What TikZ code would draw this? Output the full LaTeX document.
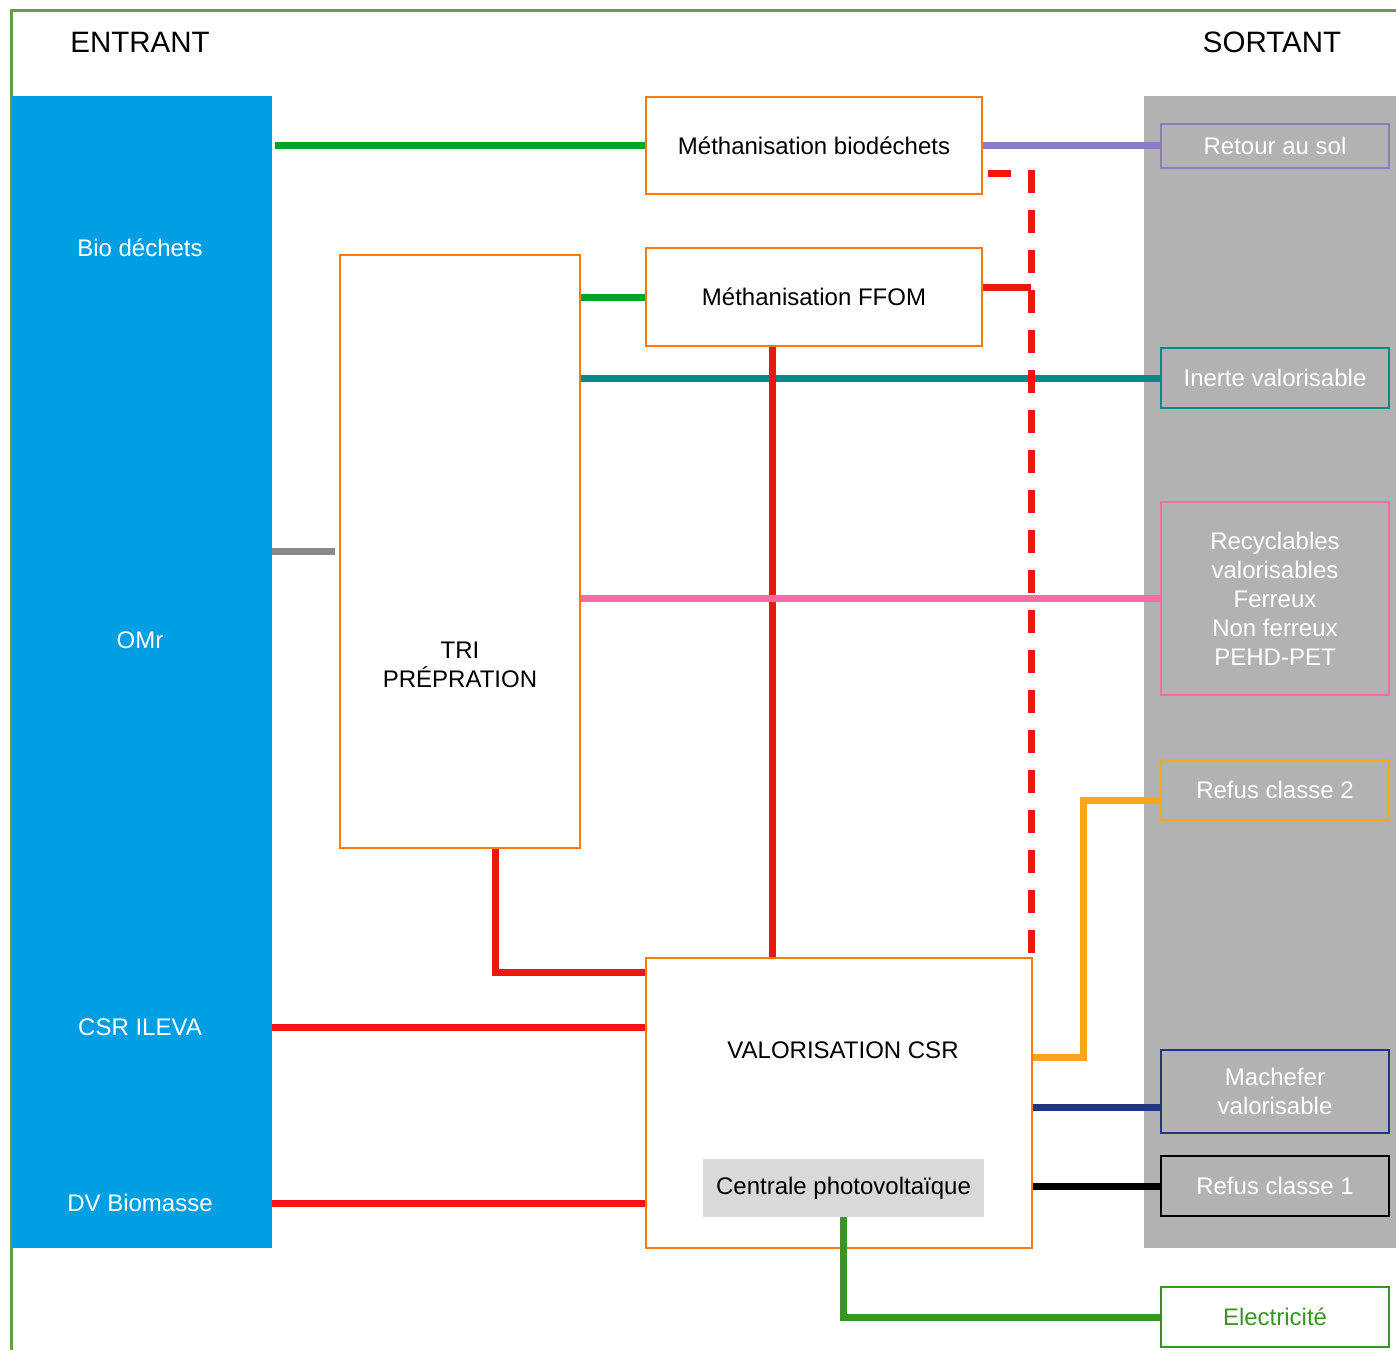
\documentclass[tikz,border=0pt]{standalone}
\usepackage{fontspec}
\setmainfont{Liberation Sans}
\usepackage{xcolor}
\usepackage{tikz}
\usetikzlibrary{positioning,calc}

\definecolor{inblue}{RGB}{0,159,227}
\definecolor{outgray}{RGB}{178,178,178}
\definecolor{framegreen}{RGB}{106,154,69}
\definecolor{procorange}{RGB}{255,122,10}
\definecolor{biogreen}{RGB}{0,165,38}
\definecolor{soilpurple}{RGB}{140,125,190}
\definecolor{flowred}{RGB}{240,20,20}
\definecolor{inertteal}{RGB}{0,139,135}
\definecolor{omrgray}{RGB}{138,138,138}
\definecolor{recypink}{RGB}{255,105,165}
\definecolor{refusorange}{RGB}{255,165,26}
\definecolor{machnavy}{RGB}{31,53,133}
\definecolor{elecgreen}{RGB}{58,148,40}
\definecolor{pvgray}{RGB}{217,217,217}

\newcommand\flowfont{\fontsize{24}{29}\selectfont}
\newcommand\headfont{\fontsize{29.5}{34}\selectfont}

\begin{document}
\begin{tikzpicture}[
    x=1pt, y=-1pt,
    head/.style={inner sep=0pt, font=\headfont},
    inlbl/.style={inner sep=0pt, text=white, font=\flowfont},
    proc/.style={rectangle, draw=procorange, line width=2.5pt, inner sep=0pt,
                 align=center, font=\flowfont, minimum width=336pt, minimum height=97pt},
    outbox/.style={rectangle, draw, line width=2.5pt, inner sep=0pt, align=center,
                   text=white, font=\flowfont, minimum width=228pt, minimum height=60pt},
    flow/.style={line width=7pt},
    reddash/.style={line width=7pt, flowred, dash pattern=on 23pt off 17pt, dash phase=35pt},
  ]
    \useasboundingbox (0,0) rectangle (1396,1350);
    \draw[framegreen, line width=3pt] (11,1350) |- (1396,10);

    \node[head] (entrant) at (140,42) {ENTRANT};
    \node[head] (sortant) at (1272,42) {SORTANT};

    \node[rectangle, fill=inblue, minimum width=260pt, minimum height=1152pt, inner sep=0pt] (in) at (142,672) {};
    \node[rectangle, fill=outgray, minimum width=252pt, minimum height=1152pt, inner sep=0pt] (out) at (1270,672) {};

    \node[inlbl] (bio) at (140,248) {Bio déchets};
    \node[inlbl] (omr) at (140,640) {OMr};
    \node[inlbl] (csrileva) at (140,1027) {CSR ILEVA};
    \node[inlbl] (dv) at (140,1203) {DV Biomasse};

    \node[proc] (methbio) at (814,145.5) {Méthanisation biodéchets};
    \node[proc, minimum height=98pt] (ffom) at (814,297) {Méthanisation FFOM};
    \node[proc, minimum width=240pt, minimum height=593pt] (tri) at (460,551.5) {};
    \node[font=\flowfont, align=center, inner sep=0pt] (trilbl) at (460,665) {TRI\\PRÉPRATION};
    \node[proc, minimum width=386pt, minimum height=290pt] (csr) at (839,1103) {};
    \node[font=\flowfont, inner sep=0pt] (csrlbl) at (843,1050) {VALORISATION CSR};
    \node[rectangle, fill=pvgray, font=\flowfont, inner sep=0pt, minimum width=281pt, minimum height=58pt] (pv) at (843.5,1188) {Centrale photovoltaïque};

    \node[outbox, draw=soilpurple, minimum height=44pt] (retour) at (1275,146) {Retour au sol};
    \node[outbox, draw=inertteal] (inerte) at (1275,378) {Inerte valorisable};
    \node[outbox, draw=recypink, minimum height=193pt] (recy) at (1275,598.5) {Recyclables\\valorisables\\Ferreux\\Non ferreux\\PEHD-PET};
    \node[outbox, draw=refusorange] (refus2) at (1275,790) {Refus classe 2};
    \node[outbox, draw=machnavy, minimum height=83pt] (machefer) at (1275,1091.5) {Machefer\\valorisable};
    \node[outbox, draw=black] (refus1) at (1275,1186) {Refus classe 1};
    \node[outbox, draw=elecgreen, fill=white, text=elecgreen] (elec) at (1275,1317) {Electricité};

    \coordinate (drop) at ([xshift=-2pt]csr.north east);

    \draw[flow, biogreen, shorten <=3pt] (methbio.west -| in.east) -- (methbio.west);
    \draw[flow, soilpurple] (methbio.east) -- (methbio.east -| retour.west);
    \draw[flow, biogreen] (ffom.west -| tri.east) -- (ffom.west);
    \draw[flow, inertteal] (inerte.west -| tri.east) -- (inerte.west);
    \draw[flow, flowred] ([yshift=10pt]ffom.east) -- ([yshift=10pt]ffom.east -| drop);
    \draw[flow, flowred] ([xshift=-42pt]ffom.south) -- ([xshift=-42pt]ffom.south |- csr.north);
    \draw[flow, omrgray, shorten >=4pt] (tri.west -| in.east) -- (tri.west);
    \draw[flow, recypink] (recy.west -| tri.east) -- (recy.west);
    \draw[reddash] ([yshift=-27.5pt]methbio.east) -| (drop);
    \draw[flow, flowred] ([xshift=35pt]tri.south) |- ([yshift=-16pt]csr.north west);
    \draw[flow, flowred] (csrileva -| in.east) -- (csrileva -| csr.west);
    \draw[flow, flowred] (dv -| in.east) -- (dv -| csr.west);
    \draw[flow, refusorange] ([yshift=46pt]csr.east) -- ++(50,0) |- ([yshift=-10pt]refus2.west);
    \draw[flow, machnavy] ([yshift=-15.5pt]machefer.west -| csr.east) -- ([yshift=-15.5pt]machefer.west);
    \draw[flow, black] (refus1.west -| csr.east) -- (refus1.west);
    \draw[flow, elecgreen] (pv.south) |- (elec.west);
  \end{tikzpicture}
\end{document}
